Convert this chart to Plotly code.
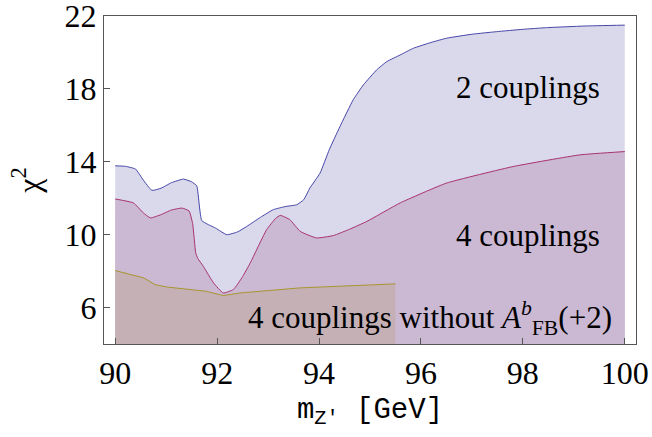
import plotly.graph_objects as go

# 2 couplings
x_two = [90, 90.2, 90.4, 90.55, 90.72, 90.9, 91.1, 91.34, 91.5, 91.6, 91.7, 91.97, 92.19, 92.4, 92.58,
         92.85, 93.1, 93.35, 93.56, 93.7, 93.82, 94.02, 94.2, 94.41, 94.67, 94.87, 95.13, 95.33, 95.59,
         95.85, 96.2, 96.5, 97.0, 97.48, 98.0, 98.46, 99.2, 100]
y_two = [13.78, 13.75, 13.6, 13.0, 12.43, 12.55, 12.85, 13.05, 12.9, 12.68, 10.77, 10.36, 10.0, 10.15, 10.45,
         10.95, 11.37, 11.55, 11.64, 11.92, 12.56, 13.38, 14.66, 15.93, 17.4, 18.22, 19.04, 19.5, 19.86,
         20.23, 20.55, 20.78, 21.0, 21.14, 21.27, 21.36, 21.45, 21.5]

# 4 couplings
x_four = [90, 90.36, 90.55, 90.69, 90.9, 91.1, 91.31, 91.45, 91.52, 91.58, 91.62, 91.73, 91.93, 92.12,
          92.32, 92.5, 92.65, 92.97, 93.15, 93.24, 93.43, 93.63, 93.95, 94.28, 94.6, 94.94, 95.59,
          96.5, 97.81, 99.12, 100]
y_four = [11.96, 11.74, 11.2, 10.92, 11.1, 11.35, 11.46, 11.3, 10.6, 9.0, 8.7, 8.26, 7.35, 6.8,
          6.99, 7.7, 8.45, 10.27, 10.9, 11.06, 10.82, 10.18, 9.82, 9.95, 10.3, 10.73, 11.74,
          12.83, 13.74, 14.38, 14.56]

# 4 couplings without A_FB^b
x_noafb = [90, 90.56, 90.78, 91.01, 91.79, 92.12, 92.45, 93.63, 95.5]
y_noafb = [8.03, 7.63, 7.26, 7.13, 6.89, 6.66, 6.8, 7.08, 7.3]

x_ticks = [90, 92, 94, 96, 98, 100]
y_ticks = [6, 10, 14, 18, 22]

fig = go.Figure()
fig.add_trace(go.Scatter(x=x_two, y=y_two, mode="lines", fill="tozeroy",
                         fillcolor="#dad9eb",
                         line=dict(color="#4646a8", width=1, shape="spline", smoothing=0.4)))
fig.add_trace(go.Scatter(x=x_four, y=y_four, mode="lines", fill="tozeroy",
                         fillcolor="#cbb8d3",
                         line=dict(color="#a8336e", width=1, shape="spline", smoothing=0.4)))
fig.add_trace(go.Scatter(x=x_noafb, y=y_noafb, mode="lines", fill="tozeroy",
                         fillcolor="#c5b0b5", line=dict(color="#a89630", width=1)))

serif = "Liberation Serif"
fig.add_annotation(x=98.1, y=18.1, text="2 couplings", showarrow=False, xanchor="center",
                   font=dict(family=serif, size=31, color="black"))
fig.add_annotation(x=98.1, y=9.95, text="4 couplings", showarrow=False, xanchor="center",
                   font=dict(family=serif, size=31, color="black"))
fig.add_annotation(x=96.18, y=5.4, showarrow=False, xanchor="center",
                   text="4 couplings without <i>A</i><sup><i>b</i></sup><sub>FB</sub>(+2)",
                   font=dict(family=serif, size=31, color="black"))

fig.update_layout(
    width=652, height=437,
    margin=dict(l=104, r=16, t=16, b=93),
    paper_bgcolor="white", plot_bgcolor="white",
    showlegend=False,
    xaxis=dict(range=[89.78, 100.22], tickvals=x_ticks, ticks="inside", ticklen=6,
               tickcolor="#555", showline=True, linecolor="#555", linewidth=1.3, mirror=True,
               showgrid=False, zeroline=False, automargin=False, ticklabeloverflow="allow",
               tickfont=dict(family=serif, size=32, color="black"),
               title=dict(text="m<sub>Z′</sub> [GeV]", standoff=8,
                          font=dict(family="Liberation Mono", size=29, color="black"))),
    yaxis=dict(range=[4, 22.001], tickvals=y_ticks, ticks="inside", ticklen=6,
               tickcolor="#555", showline=True, linecolor="#555", linewidth=1.3, mirror=True,
               showgrid=False, zeroline=False, automargin=False, ticklabeloverflow="allow",
               tickfont=dict(family=serif, size=32, color="black"),
               title=dict(text="χ<sup>2</sup>", standoff=14,
                          font=dict(family=serif, size=32, color="black"))),
)

fig.write_html("out.html", config={"displayModeBar": False},
               post_script="document.body.style.margin='0';document.body.style.padding='0';")
